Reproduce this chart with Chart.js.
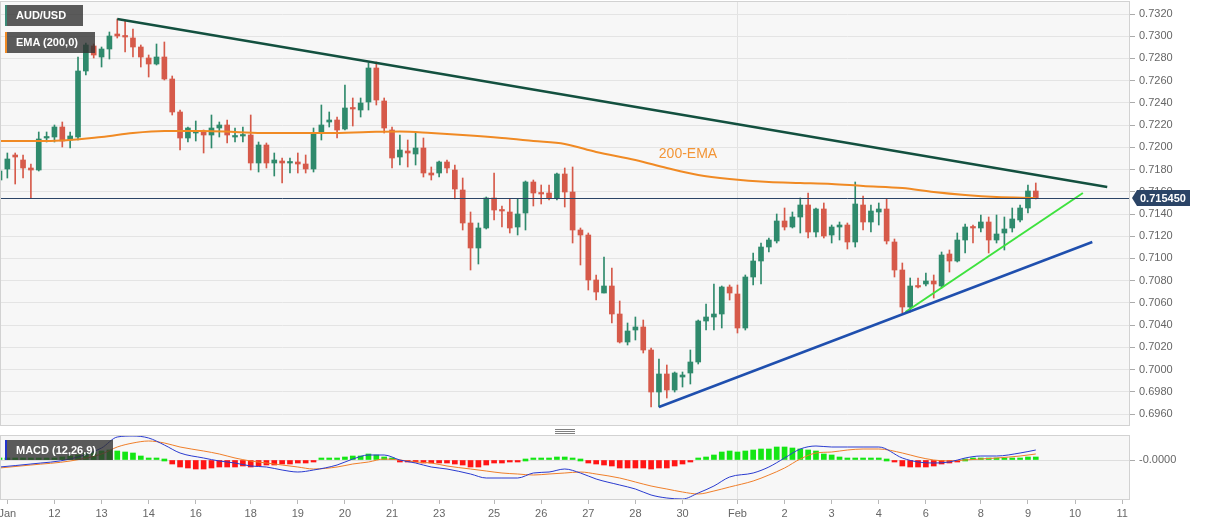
<!DOCTYPE html>
<html lang="en">
<head>
  <meta charset="UTF-8">
  <title>AUD/USD 4H</title>
  <script src="https://cdn.jsdelivr.net/npm/chart.js"></script>
  <style>
    body { margin: 0; background: #fff; font-family: "Liberation Sans", Arial, sans-serif; }
    #wrap { position: relative; width: 1207px; height: 526px; overflow: hidden; }
    canvas { position: absolute; left: 0; }
    #main { top: 0; }
    #macd { top: 430px; }
    .tag { position: absolute; left: 5px; height: 21px; line-height: 21px; padding-left: 9px; box-sizing: border-box;
           background: rgba(50,50,50,0.8); color: #fff; font-size: 11px; font-weight: bold; border-left: 2px solid; }
    .grip { position: absolute; left: 555px; width: 20px; height: 1px; background: #808080; }
  </style>
</head>
<body>
<div id="wrap">
  <canvas id="main" width="1207" height="427"></canvas>
  <canvas id="macd" width="1207" height="96"></canvas>
  <div class="tag" style="top:5px;width:78px;border-color:#3a8a76">AUD/USD</div>
  <div class="tag" style="top:32px;width:90px;border-color:#f08a24">EMA (200,0)</div>
  <div class="tag" style="top:440px;width:108px;height:20px;line-height:20px;border-color:#2233cc">MACD (12,26,9)</div>
  <div class="grip" style="top:429px"></div>
  <div class="grip" style="top:431px"></div>
  <div class="grip" style="top:433px"></div>
</div>

<script>
  // 4H candles, index 0 = first bar on the left
  const opens = [
    .71706,.71805,.71931,.71886,.71814,.71796,.72084,.72093,.72183,.72066,
    .72093,.72687,.72912,.72813,.72885,.73020,.73002,.72984,.72903,.72804,
    .72750,.72813,.72615,.72318,.72084,.72129,.72138,.72111,.72174,.72201,
    .72093,.72102,.72111,.71859,.72021,.71859,.71877,.71859,.71868,.71850,
    .71805,.72129,.72228,.72246,.72165,.72354,.72336,.72408,.72714,.72417,
    .72156,.71913,.71967,.71940,.71994,.71769,.71769,.71868,.71796,.71616,
    .71319,.71094,.71274,.71544,.71436,.71418,.71283,.71409,.71688,.71589,
    .71589,.71544,.71760,.71598,.71256,.71211,.70806,.70689,.70752,.70500,
    .70248,.70356,.70383,.70176,.69798,.69960,.69816,.69933,.69969,.70068,
    .70437,.70473,.70500,.70743,.70680,.70374,.70833,.70977,.71103,.71157,
    .71337,.71283,.71373,.71481,.71238,.71445,.71211,.71283,.71301,.71148,
    .71481,.71328,.71418,.71445,.71148,.70896,.70563,.70752,.70770,.70797,
    .70752,.71040,.70977,.71166,.71283,.71274,.71328,.71166,.71229,.71274,
    .71346,.71454,.71607
  ];
  const highs = [
    .71958,.71949,.71949,.71931,.71850,.72138,.72138,.72201,.72228,.72138,
    .72813,.72939,.72930,.72903,.73038,.73155,.73137,.73065,.72921,.72831,
    .72930,.72948,.72642,.72336,.72183,.72237,.72156,.72291,.72228,.72246,
    .72174,.72183,.72291,.72048,.72039,.71949,.71904,.71904,.71949,.71931,
    .72174,.72381,.72318,.72273,.72561,.72444,.72444,.72759,.72768,.72444,
    .72183,.72111,.72066,.72138,.72084,.71823,.71877,.71886,.71841,.71724,
    .71418,.71319,.71553,.71769,.71472,.71535,.71535,.71697,.71706,.71661,
    .71661,.71769,.71814,.71823,.71274,.71229,.70851,.71013,.70914,.70617,
    .70419,.70473,.70446,.70194,.70095,.70041,.69978,.69978,.70176,.70446,
    .70590,.70770,.70752,.70761,.70761,.70851,.71049,.71139,.71184,.71400,
    .71454,.71418,.71544,.71589,.71454,.71499,.71301,.71328,.71319,.71688,
    .71562,.71481,.71499,.71535,.71175,.70959,.70824,.70824,.70869,.70851,
    .71058,.71076,.71229,.71310,.71301,.71391,.71373,.71391,.71373,.71454,
    .71481,.71661,.71679
  ];
  const lows = [
    .71616,.71724,.71670,.71724,.71544,.71787,.72048,.72048,.72003,.71994,
    .72066,.72651,.72804,.72723,.72795,.72984,.72858,.72813,.72723,.72633,
    .72741,.72606,.72291,.71976,.72048,.72057,.71949,.71994,.72093,.72039,
    .72048,.72048,.71796,.71778,.71814,.71742,.71679,.71769,.71769,.71769,
    .71778,.72066,.72183,.72084,.72156,.72192,.72273,.72336,.72381,.72129,
    .71814,.71841,.71823,.71841,.71733,.71706,.71733,.71769,.71535,.71256,
    .70896,.70950,.71265,.71346,.71283,.71229,.71211,.71256,.71472,.71490,
    .71526,.71526,.71463,.71139,.70941,.70716,.70626,.70689,.70419,.70239,
    .70221,.70266,.70149,.69663,.69663,.69744,.69798,.69843,.69870,.70050,
    .70356,.70356,.70374,.70626,.70329,.70356,.70761,.70770,.71058,.71139,
    .71256,.71274,.71229,.71184,.71193,.71184,.71139,.71166,.71085,.71103,
    .71256,.71238,.71301,.71130,.70833,.70509,.70518,.70734,.70752,.70644,
    .70734,.70878,.70968,.71049,.71139,.71238,.71049,.71139,.71076,.71238,
    .71328,.71409,.71535
  ];
  const closes = [
    .71787,.71895,.71913,.71814,.71796,.72075,.72093,.72183,.72057,.72102,
    .72687,.72921,.72831,.72885,.73002,.73002,.72993,.72903,.72813,.72750,
    .72813,.72615,.72318,.72084,.72174,.72138,.72111,.72174,.72201,.72111,
    .72102,.72111,.71859,.72021,.71859,.71886,.71859,.71868,.71850,.71805,
    .72129,.72201,.72246,.72156,.72354,.72345,.72399,.72714,.72426,.72174,
    .71904,.71976,.71949,.71994,.71769,.71751,.71868,.71814,.71625,.71319,
    .71094,.71274,.71544,.71436,.71427,.71274,.71400,.71688,.71589,.71580,
    .71544,.71760,.71598,.71256,.71211,.70806,.70698,.70752,.70500,.70248,
    .70347,.70383,.70176,.69798,.69960,.69816,.69969,.69951,.70068,.70437,
    .70473,.70500,.70743,.70689,.70374,.70833,.70977,.71103,.71166,.71337,
    .71283,.71373,.71481,.71238,.71445,.71202,.71283,.71301,.71148,.71490,
    .71328,.71427,.71445,.71157,.70896,.70563,.70752,.70743,.70797,.70770,
    .71031,.70977,.71166,.71283,.71274,.71328,.71166,.71220,.71265,.71355,
    .71454,.71607,.71545
  ];

  // 200 EMA read at sample bars
  const emaIdx = [0,6,13,17,21,26,30,34,38,42,47,51,55,59,64,68,72,76,81,85,89,93,98,102,106,110,115,119,123,127,132];
  const ema200 = [.72057,.72057,.72093,.72129,.72147,.72147,.72138,.72129,.72129,.72129,.72138,.72143,.72129,.72111,.72084,
                  .72057,.72030,.71958,.71886,.71814,.71751,.71715,.71688,.71679,.71670,.71652,.71634,.71598,.71571,.71553,.71544];

  // trend lines: [start, end] in bar index / price
  const resistX = [15.0, 141.1], resistY = [0.73155, 0.71643];
  const supportX = [84.0, 139.2], supportY = [0.69663, 0.71148];
  const innerX = [115.4, 138.0], innerY = [0.70518, 0.71589];

  // MACD (12,26,9)
  const histogram = [
    .0001,.0001,.0001,.0001,.0001,.0001,.0002,.0002,.0003,.0004,.0005,.0007,.0008,.0009,.0010,
    .0009,.0008,.0007,.0004,.0002,.0001,0,
    -.0004,-.0007,-.0008,-.0009,-.0009,-.0008,-.0007,-.0007,-.0007,-.0006,-.0007,-.0006,-.0005,-.0005,-.0004,-.0004,-.0003,-.0003,-.0001,
    .0001,.0001,.0002,.0003,.0004,.0004,.0006,.0005,.0003,.0001,
    -.0001,-.0002,-.0002,-.0003,-.0003,-.0003,-.0003,-.0004,-.0005,-.0007,-.0007,-.0005,-.0003,-.0003,-.0002,-.0002,
    0,
    .0001,.0001,.0002,.0003,.0003,.0001,
    0,
    -.0003,-.0004,-.0005,-.0006,-.0008,-.0008,-.0008,-.0008,-.0009,-.0008,-.0008,-.0006,-.0004,-.0002,
    .0001,.0003,.0005,.0008,.0009,.0008,.0009,.0010,.0011,.0011,.0013,.0013,.0012,.0011,.0010,.0009,.0006,.0005,.0003,.0002,.0002,.0001,.0001,.0001,
    0,
    -.0002,-.0006,-.0007,-.0007,-.0007,-.0006,-.0004,-.0003,-.0001,
    0,
    .0001,.0001,.0001,.0001,.0001,.0001,.0002,.0003,.0003
  ];
  const macdIdx = [0,4,9,13,15,17,19,21,23,26,28,30,32,34,36,38,40,43,45,47,49,51,53,55,57,60,62,64,66,68,
                   70,72,74,76,79,81,83,85,87,89,91,93,96,98,100,102,104,106,108,110,112,115,117,119,121,123,125,127,130,132];
  const macdLine = [-.0007,-.0004,.0001,.0012,.0023,.0024,.0022,.0015,.0007,.0002,-.0001,-.0003,-.0006,-.0007,-.0010,
                    -.0012,-.0010,-.0005,.0001,.0005,.0005,0,-.0003,-.0007,-.0009,-.0014,-.0018,-.0018,-.0018,-.0013,
                    -.0012,-.0009,-.0013,-.0019,-.0025,-.0029,-.0035,-.0038,-.0039,-.0033,-.0026,-.0017,-.0013,-.0007,.0002,
                    .0011,.0014,.0013,.0013,.0013,.0013,.0002,-.0002,-.0003,-.0002,.0002,.0004,.0004,.0007,.0010];
  const signalLine = [-.0008,-.0005,-.0001,.0006,.0013,.0017,.0019,.0017,.0013,.0009,.0006,.0002,-.0001,-.0003,-.0005,
                      -.0007,-.0009,-.0007,-.0004,-.0002,.0001,0,-.0002,-.0003,-.0006,-.0009,-.0011,-.0013,-.0014,-.0015,
                      -.0014,-.0013,-.0012,-.0014,-.0018,-.0022,-.0026,-.0029,-.0032,-.0034,-.0031,-.0027,-.0021,-.0015,-.0008,
                      .0001,.0007,.0008,.0010,.0011,.0011,.0007,.0003,0,-.0001,0,.0001,.0002,.0004,.0006];

  // axes
  const dayTickIdx = [1,7,13,19,25,32,38,44,50,56,63,69,75,81,87,94,100,106,112,118,125,131,137,143];
  const dayTickLabels = ['Jan','12','13','14','16','18','19','20','21','23','25','26','27','28','30','Feb','2','3','4','6','8','9','10','11'];
  const priceTicks = [0.696,0.698,0.700,0.702,0.704,0.706,0.708,0.710,0.712,0.714,0.716,0.718,0.720,0.722,0.724,0.726,0.728,0.730,0.732];
  const lastPrice = closes[closes.length - 1];
  const emaNote = '200-EMA', emaNoteAt = [87.7, 0.7194];

  const UP = '#2f8a6c', DOWN = '#d65a4a';
  const X_MIN = 0.064, X_MAX = 144.0;
  const febTick = dayTickIdx[dayTickLabels.indexOf('Feb')];

  Chart.defaults.font.family = '"Liberation Sans", Arial, sans-serif';
  Chart.defaults.font.size = 11;
  Chart.defaults.color = '#666';

  const panel = {
    id: 'panel',
    beforeDraw(chart) {
      const { ctx, chartArea: a } = chart;
      ctx.save();
      ctx.fillStyle = '#f7f7f7';
      ctx.fillRect(a.left, a.top, a.right - a.left, a.bottom - a.top);
      ctx.restore();
    },
    afterDraw(chart) {
      const { ctx, chartArea: a } = chart;
      ctx.save();
      ctx.strokeStyle = '#d2d2d2';
      ctx.lineWidth = 1;
      ctx.strokeRect(a.left + 0.5, a.top + 0.5, a.right - a.left - 1, a.bottom - a.top - 1);
      ctx.restore();
    }
  };

  const priceTag = {
    id: 'priceTag',
    afterDatasetsDraw(chart) {
      const { ctx, chartArea: a, scales: { x, y } } = chart;
      const py = Math.round(y.getPixelForValue(lastPrice)) + 0.5;
      ctx.save();
      ctx.strokeStyle = '#2b4466';
      ctx.lineWidth = 1;
      ctx.beginPath(); ctx.moveTo(a.left, py); ctx.lineTo(a.right, py); ctx.stroke();
      ctx.fillStyle = '#f39536';
      ctx.font = '14px "Liberation Sans", Arial, sans-serif';
      ctx.textAlign = 'center';
      ctx.textBaseline = 'middle';
      ctx.fillText(emaNote, x.getPixelForValue(emaNoteAt[0]), y.getPixelForValue(emaNoteAt[1]));
      ctx.restore();
    },
    afterDraw(chart) {
      const { ctx, chartArea: a, scales: { y } } = chart;
      const py = Math.round(y.getPixelForValue(lastPrice));
      const l = a.right + 2;
      ctx.save();
      ctx.fillStyle = '#2b4466';
      ctx.beginPath();
      ctx.moveTo(l, py);
      ctx.lineTo(l + 5, py - 8);
      ctx.lineTo(l + 58, py - 8);
      ctx.lineTo(l + 58, py + 8);
      ctx.lineTo(l + 5, py + 8);
      ctx.closePath();
      ctx.fill();
      ctx.fillStyle = '#fff';
      ctx.font = 'bold 11px "Liberation Sans", Arial, sans-serif';
      ctx.textBaseline = 'middle';
      ctx.fillText(lastPrice.toFixed(6), l + 8, py + 0.5);
      ctx.restore();
    }
  };

  function line(xs, ys, color, width) {
    return {
      type: 'line',
      data: xs.map((v, i) => ({ x: v, y: ys[i] })),
      borderColor: color, borderWidth: width, pointRadius: 0,
      cubicInterpolationMode: 'monotone', tension: 0.4, order: 0
    };
  }

  const candleColors = closes.map((c, i) => c >= opens[i] ? UP : DOWN);

  new Chart(document.getElementById('main'), {
    type: 'bar',
    data: {
      datasets: [
        { data: lows.map((v, i) => ({ x: i, y: [v, highs[i]] })), backgroundColor: candleColors,
          barThickness: 1, grouped: false, order: 3 },
        { data: opens.map((v, i) => ({ x: i, y: [v, closes[i]] })), backgroundColor: candleColors,
          barThickness: 5, minBarLength: 1.5, grouped: false, order: 2 },
        line(emaIdx, ema200, '#f08a24', 2),
        line(resistX, resistY, '#13503f', 2.5),
        line(supportX, supportY, '#1f4fae', 2.5),
        line(innerX, innerY, '#3ee23e', 2)
      ]
    },
    options: {
      responsive: false, animation: false, events: [],
      layout: { padding: { top: 1, bottom: 1, left: 0, right: 0 } },
      plugins: { legend: { display: false }, tooltip: { enabled: false } },
      scales: {
        x: {
          type: 'linear', min: X_MIN, max: X_MAX, offset: false,
          afterBuildTicks: s => { s.ticks = dayTickIdx.map(v => ({ value: v })); },
          ticks: { display: false },
          grid: { offset: false, drawTicks: false, color: c => c.tick && c.tick.value === febTick ? '#e2e2e2' : 'rgba(0,0,0,0)' },
          border: { display: false },
          afterFit: s => { s.height = 0; s.paddingLeft = 0; s.paddingRight = 0; }
        },
        y: {
          position: 'right', min: 0.69492, max: 0.73317,
          afterBuildTicks: s => { s.ticks = priceTicks.map(v => ({ value: v })); },
          ticks: { callback: v => v.toFixed(4), padding: 4, color: '#666' },
          grid: { color: '#e4e4e4', tickColor: '#aaa', tickLength: 5 },
          border: { display: false },
          afterFit: s => { s.width = 77; s.paddingTop = 0; s.paddingBottom = 0; }
        }
      }
    },
    plugins: [panel, priceTag]
  });

  new Chart(document.getElementById('macd'), {
    type: 'bar',
    data: {
      datasets: [
        { data: histogram.map((v, i) => ({ x: i, y: v })),
          backgroundColor: histogram.map(v => v >= 0 ? '#14e614' : '#ff1414'),
          barThickness: 5, minBarLength: 2, grouped: false, order: 2 },
        Object.assign(line(macdIdx, macdLine, '#2a3bd0', 1), { tension: 0.2 }),
        Object.assign(line(macdIdx, signalLine, '#f07f2a', 1), { tension: 0.2 })
      ]
    },
    options: {
      responsive: false, animation: false, events: [],
      layout: { padding: { top: 5, bottom: 0, left: 0, right: 0 } },
      plugins: { legend: { display: false }, tooltip: { enabled: false } },
      scales: {
        x: {
          type: 'linear', min: X_MIN, max: X_MAX, offset: false,
          afterBuildTicks: s => { s.ticks = dayTickIdx.map(v => ({ value: v })); },
          ticks: { autoSkip: false, maxRotation: 0, padding: 3, color: '#666',
                   callback: (v, i) => dayTickLabels[i] },
          grid: { offset: false, tickLength: 4, tickColor: '#b8b8b8',
                  color: c => c.tick && c.tick.value === febTick ? '#e2e2e2' : 'rgba(0,0,0,0)' },
          border: { display: false },
          afterFit: s => { s.height = 26; s.paddingLeft = 0; s.paddingRight = 0; }
        },
        y: {
          position: 'right', min: -0.0040, max: 0.0025,
          afterBuildTicks: s => { s.ticks = [{ value: 0 }]; },
          ticks: { callback: () => '-0.0000', padding: 4, color: '#666' },
          grid: { color: '#dedede', tickColor: '#aaa', tickLength: 5 },
          border: { display: false },
          afterFit: s => { s.width = 77; s.paddingTop = 0; s.paddingBottom = 0; }
        }
      }
    },
    plugins: [panel]
  });
</script>
</body>
</html>
